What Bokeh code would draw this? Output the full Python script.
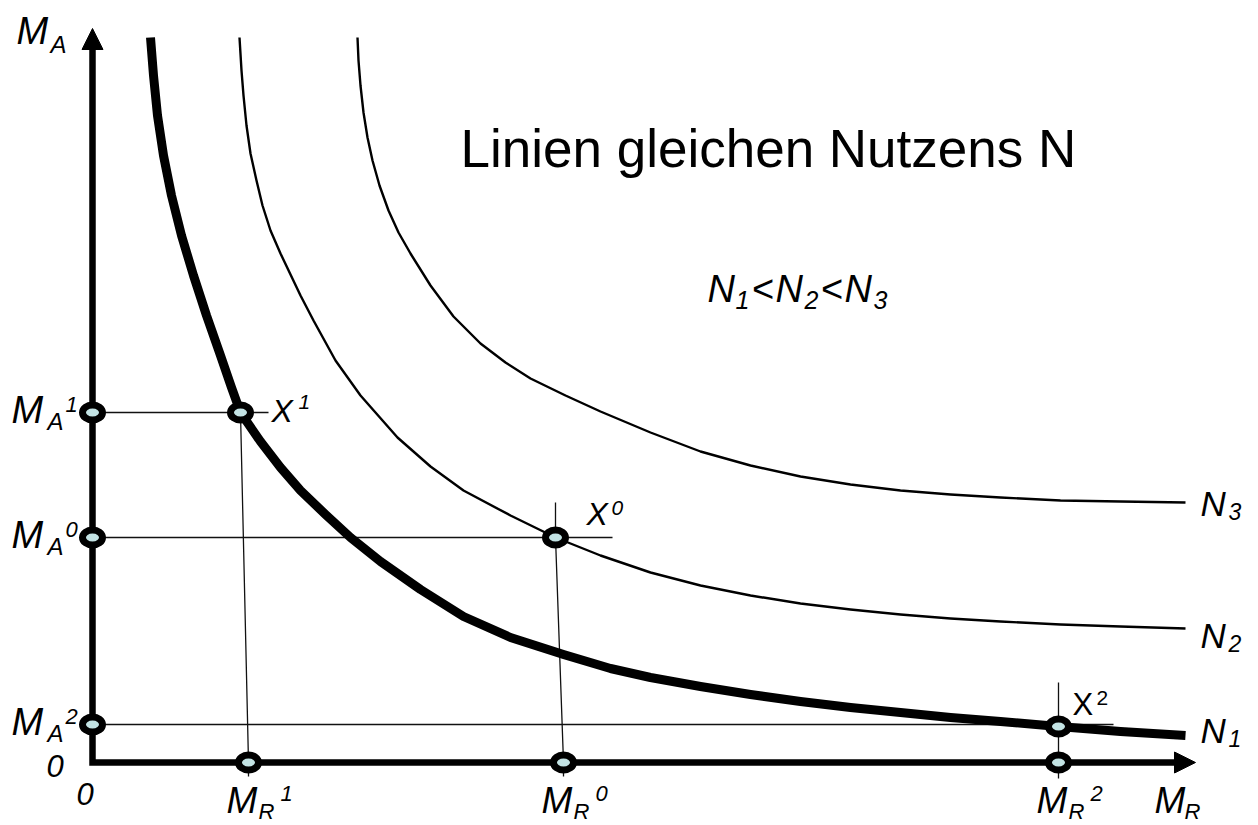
from bokeh.plotting import figure
from bokeh.models import Range1d, Arrow, NormalHead
from bokeh.core.properties import value
from bokeh.embed import file_html
from bokeh.resources import INLINE

# ---------------- data (origin = corner of the axes) ----
n1_x = [5.8, 6.1, 6.5, 7.1, 7.9, 8.9, 10.1, 11.4, 12.8, 13.9, 14.8, 16.8, 18.8, 20.8, 23.3, 25.8,
        28.8, 32.8, 37.1, 41.8, 47.1, 51.8, 55.8, 60.8, 65.8, 70.8, 75.8, 80.8, 85.8, 90.8,
        96.6, 102.8, 109.3]
n1_y = [72.5, 68.7, 64.7, 60.7, 56.7, 52.7, 48.7, 44.7, 40.7, 37.5, 35.0, 32.1, 29.5, 27.2, 24.8, 22.5,
        20.1, 17.3, 14.6, 12.5, 10.8, 9.4, 8.5, 7.6, 6.8, 6.1, 5.5, 5.0, 4.5, 4.1,
        3.6, 3.1, 2.7]

n2_x = [14.7, 14.9, 15.1, 15.4, 15.8, 16.4, 17.0, 17.8, 18.8, 20.8, 22.1, 24.3, 26.8, 30.5, 33.8,
        37.1, 41.8, 46.3, 50.8, 55.8, 60.8, 65.8, 70.8, 75.8, 80.8, 85.8, 90.8, 96.8, 102.8, 109.3]
n2_y = [72.5, 69.2, 66.7, 63.7, 60.9, 58.2, 55.7, 53.2, 50.9, 46.7, 44.2, 40.2, 36.7, 32.5, 29.6,
        27.2, 24.7, 22.5, 20.7, 19.0, 17.7, 16.7, 15.9, 15.3, 14.8, 14.4, 14.1, 13.8, 13.6, 13.4]

n3_x = [26.5, 26.6, 26.8, 27.1, 27.5, 28.0, 28.7, 29.6, 30.6, 31.8, 33.8, 36.1, 38.8, 41.3, 43.8,
        47.3, 50.8, 55.8, 60.8, 65.8, 70.8, 75.8, 80.8, 85.8, 90.8, 96.8, 102.8, 109.3]
n3_y = [72.5, 70.2, 67.7, 65.0, 62.5, 60.2, 57.7, 55.2, 53.0, 50.9, 47.7, 44.6, 41.9, 40.0, 38.4,
        36.7, 35.1, 33.0, 31.1, 29.7, 28.6, 27.8, 27.2, 26.8, 26.5, 26.2, 26.1, 26.0]

# optimum points X1, X0, X2 and their projections on the axes
pt_names = ["1", "0", "2"]
pt_x = [14.8, 46.3, 96.6]
pt_y = [35.0, 22.5, 3.6]
ma_vals = [35.0, 22.5, 3.8]    # M_A^1, M_A^0, M_A^2
mr_vals = [15.6, 47.1, 96.6]   # M_R^1, M_R^0, M_R^2

x_tip = 110.3
y_tip = 73.4

# ---------------- figure ---------------------------------------------------------
p = figure(width=1258, height=825, x_range=Range1d(-9.2, 116.6), y_range=Range1d(-6.3, 76.2),
           output_backend="svg", toolbar_location=None, min_border=0,
           x_axis_type=None, y_axis_type=None, outline_line_color=None,
           background_fill_color="white", border_fill_color="white")

FONT = value("Liberation Sans")


def put(x, y, s, dx, dy, size, style="italic"):
    p.text(x=[x], y=[y], text=[s], x_offset=dx, y_offset=dy, text_font=FONT,
           text_font_style=style, text_font_size=f"{size}px", text_align="left",
           text_baseline="middle", text_color="black")


THIN = 1.3
GUIDE = "#111111"
# horizontal guides
p.line([0, pt_x[0] + 2.8], [ma_vals[0]] * 2, line_width=THIN, color=GUIDE)
p.line([0, pt_x[1] + 5.7], [ma_vals[1]] * 2, line_width=THIN, color=GUIDE)
p.line([0, pt_x[2] + 5.5], [ma_vals[2]] * 2, line_width=THIN, color=GUIDE)
# vertical guides (slightly slanted as in the drawing)
p.line([pt_x[0], mr_vals[0], mr_vals[0]], [pt_y[0], 0, -1.4], line_width=THIN, color=GUIDE)
p.line([pt_x[1], pt_x[1], mr_vals[1], mr_vals[1]], [pt_y[1] + 3.5, pt_y[1], 0, -1.4],
       line_width=THIN, color=GUIDE)
p.line([pt_x[2], mr_vals[2]], [pt_y[2] + 4.4, -1.6], line_width=THIN, color=GUIDE)

# indifference curves
p.line(n3_x, n3_y, line_width=2.4, color="black", line_join="round")
p.line(n2_x, n2_y, line_width=2.4, color="black", line_join="round")
p.line(n1_x, n1_y, line_width=9, color="black", line_join="round")

# axes
p.line([0, 0, x_tip - 1.8], [y_tip - 1.8, 0, 0], line_width=6.5, color="black", line_join="miter")
p.add_layout(Arrow(end=NormalHead(size=21, fill_color="black", line_color="black", line_width=1),
                   x_start=0, y_start=y_tip - 2.1, x_end=0, y_end=y_tip, line_alpha=0))
p.add_layout(Arrow(end=NormalHead(size=21, fill_color="black", line_color="black", line_width=1),
                   x_start=x_tip - 2.1, y_start=0, x_end=x_tip, y_end=0, line_alpha=0))

# markers
mx = pt_x + [0, 0, 0] + mr_vals
my = pt_y + ma_vals + [0, 0, 0]
p.ellipse(x=mx, y=my, width=20, height=15, width_units="screen", height_units="screen",
          fill_color="#c3e3e4", line_color="black", line_width=7)

# ---------------- labels (offsets in screen pixels, y downwards) --------------------
# axis name M_A
put(0, y_tip, "M", -76, 2, 38)
put(0, y_tip, "A", -42, 16, 24)
# M_A^k
for v, k in zip(ma_vals, pt_names):
    put(0, v, "M", -81, -3, 38)
    put(0, v, "A", -45, 9, 24)
    put(0, v, k, -27, -8, 22)
# zeros
put(0, 0, "0", -46, 3, 31)
put(0, 0, "0", -16, 31, 31)
# M_R^k
for v, k in zip(mr_vals, pt_names):
    put(v, 0, "M", -22, 38, 37)
    put(v, 0, "R", 10, 49, 22)
    put(v, 0, k, 32, 31, 22)
put(x_tip, 0, "M", -41, 38, 37)
put(x_tip, 0, "R", -11, 49, 22)

# X labels
put(pt_x[0], pt_y[0], "X", 31, -2, 32)
put(pt_x[0], pt_y[0], "1", 58, -11, 21)
put(pt_x[1], pt_y[1], "X", 31, -24, 32)
put(pt_x[1], pt_y[1], "0", 56, -30, 21)
put(pt_x[2], pt_y[2], "X", 14, -22, 31, "normal")
put(pt_x[2], pt_y[2], "2", 38, -29, 21, "normal")

# curve names
for cx, cy, k, dn, ds in [(n3_x[-1], n3_y[-1], "3", 1, 9),
                          (n2_x[-1], n2_y[-1], "2", 7, 15),
                          (n1_x[-1], n1_y[-1], "1", -5, 3)]:
    put(cx, cy, "N", 15, dn, 35)
    put(cx, cy, k, 43, ds, 23)

# N1<N2<N3
fx, fy = 61.5, 47.35
for s, dx, dy, sz in [("N", 0, 0, 38), ("1", 28, 11, 25), ("<", 44, 0, 38), ("N", 68, 0, 38),
                      ("2", 97, 11, 25), ("<", 113, 0, 38), ("N", 137, 0, 38), ("3", 166, 11, 25)]:
    put(fx, fy, s, dx, dy, sz)

# title
put(36.8, 61.45, "Linien gleichen Nutzens N", 0, 0, 53, "normal")

open("out.html", "w").write(file_html(p, INLINE))
